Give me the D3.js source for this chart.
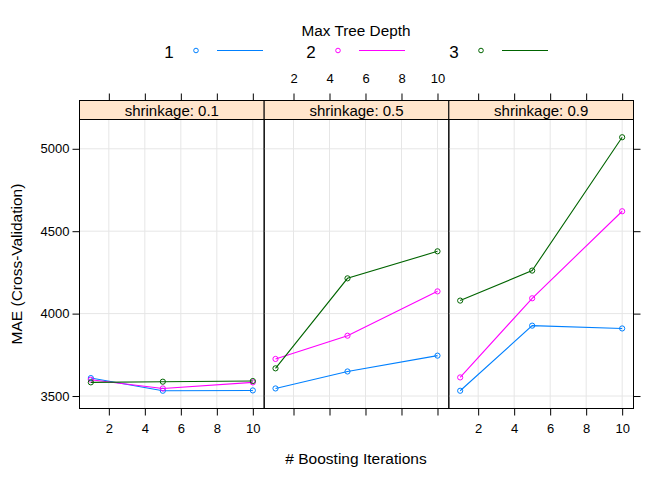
<!DOCTYPE html>
<meta charset="utf-8">
<html>
<head>
  <style>
    body { margin: 0; background: #fff; }
    svg { font-family: 'Liberation Sans', Arial, sans-serif; }
    .grid line { stroke: #e6e6e6; stroke-width: 1; }
    .line { fill: none; stroke-width: 1.1px; }
    .pt { fill: none; stroke-width: 1; }
  </style>
  <script src="https://d3js.org/d3.v7.min.js"></script>
</head>
<body>
<svg width="672" height="480"></svg>
<script>
// boosting iterations on the x axis
var iterations = [1, 5, 10];
// one panel per shrinkage value
var shrinkage = ["0.1", "0.5", "0.9"];
var depths = [1, 2, 3];
var depthColors = ["#0080ff", "#ff00ff", "#006400"];

// MAE (cross-validation), one array per shrinkage panel, per depth
var maeDepth1 = [[3609, 3532, 3534], [3546, 3649, 3745], [3532, 3927, 3910]];
var maeDepth2 = [[3599, 3546, 3583], [3725, 3866, 4135], [3613, 4093, 4621]];
var maeDepth3 = [[3583, 3587, 3591], [3668, 4214, 4378], [4079, 4261, 5070]];

var xTicks = [2, 4, 6, 8, 10];
var yTicks = [3500, 4000, 4500, 5000];

var svg = d3.select("svg");

var panelLeft = 79.5, panelRight = 633.5;
var panelTop = 119.5, panelBottom = 408.5;
var stripH = 19;
var panelW = (panelRight - panelLeft) / shrinkage.length;
var tickFont = "13px";

var series = [maeDepth1, maeDepth2, maeDepth3];

// lattice style padding of 7% on both axes
var allY = [].concat.apply([], series.map(function(s) { return [].concat.apply([], s); }));
var yMin = d3.min(allY), yMax = d3.max(allY);
var yPad = (yMax - yMin) * 0.07;
var xPad = (d3.max(iterations) - d3.min(iterations)) * 0.07;

var y = d3.scaleLinear()
  .domain([yMin - yPad, yMax + yPad])
  .range([panelBottom, panelTop]);

// legend
svg.append("text")
  .attr("x", 356).attr("y", 36)
  .attr("text-anchor", "middle")
  .style("font-size", "15.3px")
  .text("Max Tree Depth");

var legendX = [169, 311, 454];
depths.forEach(function(d, i) {
  var lx = legendX[i];
  svg.append("text")
    .attr("x", lx).attr("y", 57.5)
    .attr("text-anchor", "middle")
    .style("font-size", "17px")
    .text(d);
  svg.append("circle")
    .attr("class", "pt")
    .attr("cx", lx + 27).attr("cy", 50.5).attr("r", 2.3)
    .style("stroke", depthColors[i]);
  svg.append("line")
    .attr("x1", lx + 48).attr("x2", lx + 94)
    .attr("y1", 50.5).attr("y2", 50.5)
    .style("stroke", depthColors[i])
    .style("stroke-width", 1.2);
});

var line = d3.line()
  .x(function(d) { return d.x; })
  .y(function(d) { return d.y; });

shrinkage.forEach(function(s, p) {
  var x0 = panelLeft + p * panelW;
  var x = d3.scaleLinear()
    .domain([d3.min(iterations) - xPad, d3.max(iterations) + xPad])
    .range([x0, x0 + panelW]);

  var g = svg.append("g");

  // grid
  var grid = g.append("g").attr("class", "grid");
  grid.selectAll(".gx").data(xTicks).enter().append("line")
    .attr("x1", function(d) { return x(d); }).attr("x2", function(d) { return x(d); })
    .attr("y1", panelTop).attr("y2", panelBottom);
  grid.selectAll(".gy").data(yTicks).enter().append("line")
    .attr("x1", x0).attr("x2", x0 + panelW)
    .attr("y1", function(d) { return y(d); }).attr("y2", function(d) { return y(d); });

  // lines and points per depth
  depths.forEach(function(d, i) {
    var pts = iterations.map(function(it, k) {
      return { x: x(it), y: y(series[i][p][k]) };
    });
    g.append("path")
      .attr("class", "line")
      .attr("d", line(pts))
      .style("stroke", depthColors[i]);
    g.selectAll(".p" + i).data(pts).enter().append("circle")
      .attr("class", "pt")
      .attr("cx", function(q) { return q.x; })
      .attr("cy", function(q) { return q.y; })
      .attr("r", 2.6)
      .style("stroke", depthColors[i]);
  });

  // strip
  g.append("rect")
    .attr("x", x0).attr("y", panelTop - stripH)
    .attr("width", panelW).attr("height", stripH)
    .style("fill", "#ffe5cc").style("stroke", "#000");
  g.append("text")
    .attr("x", x0 + panelW / 2).attr("y", panelTop - 4)
    .attr("text-anchor", "middle")
    .style("font-size", "15px")
    .text("shrinkage: " + s);

  // panel border
  g.append("rect")
    .attr("x", x0).attr("y", panelTop)
    .attr("width", panelW).attr("height", panelBottom - panelTop)
    .style("fill", "none").style("stroke", "#000");

  // bottom axis: labels on outer panels only
  var bottom = d3.axisBottom(x).tickValues(xTicks).tickSize(7).tickSizeOuter(0);
  if (p === 1) bottom.tickFormat("");
  var ba = g.append("g")
    .attr("transform", "translate(0," + panelBottom + ")")
    .call(bottom);
  // top axis: labels on the middle panel
  var top = d3.axisTop(x).tickValues(xTicks).tickSize(7).tickSizeOuter(0);
  if (p !== 1) top.tickFormat("");
  var ta = g.append("g")
    .attr("transform", "translate(0," + (panelTop - stripH) + ")")
    .call(top);
  [ba, ta].forEach(function(a) {
    a.select(".domain").remove();
    a.selectAll("text").style("font-size", tickFont).style("font-family", "'Liberation Sans', Arial, sans-serif");
  });
  ba.selectAll("text").attr("dy", "1.1em");
  ta.selectAll("text").attr("dy", "-0.55em");
});

// y axes
var left = svg.append("g")
  .attr("transform", "translate(" + panelLeft + ",0)")
  .call(d3.axisLeft(y).tickValues(yTicks).tickSize(7).tickFormat(d3.format("d")));
var right = svg.append("g")
  .attr("transform", "translate(" + panelRight + ",0)")
  .call(d3.axisRight(y).tickValues(yTicks).tickSize(7).tickFormat(""));
[left, right].forEach(function(a) {
  a.select(".domain").remove();
  a.selectAll("text").style("font-size", tickFont).style("font-family", "'Liberation Sans', Arial, sans-serif");
});

// axis titles
svg.append("text")
  .attr("x", 356).attr("y", 464)
  .attr("text-anchor", "middle")
  .style("font-size", "15.5px")
  .text("# Boosting Iterations");
svg.append("text")
  .attr("transform", "translate(22,264) rotate(-90)")
  .attr("text-anchor", "middle")
  .style("font-size", "15.5px")
  .text("MAE (Cross-Validation)");
</script>
</body>
</html>
